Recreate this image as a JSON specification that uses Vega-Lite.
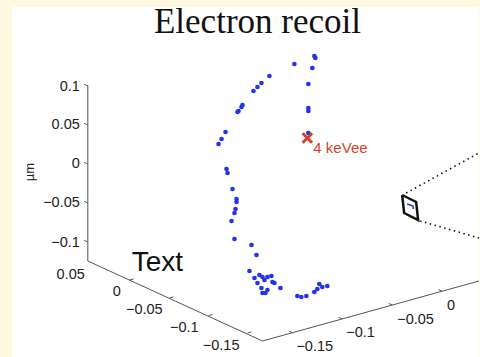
{
  "$schema": "https://vega.github.io/schema/vega-lite/v6.json",
  "width": 480,
  "height": 357,
  "autosize": {"type": "fit", "contains": "padding"},
  "padding": 0,
  "background": "#FFF8E1",
  "config": {"view": {"stroke": null}},
  "datasets": {
    "panel": [{"x": 12, "x2": 480, "y": 7, "y2": 357}],
    "axisLines": [
      {"x": 88, "y": 85, "x2": 88, "y2": 261},
      {"x": 88, "y": 261, "x2": 263, "y2": 341},
      {"x": 263, "y": 341, "x2": 480, "y2": 281}
    ],
    "ticks": [
      {"x": 88, "y": 86, "x2": 84.4, "y2": 84.4},
      {"x": 88, "y": 125, "x2": 84.4, "y2": 123.4},
      {"x": 88, "y": 164, "x2": 84.4, "y2": 162.4},
      {"x": 88, "y": 203, "x2": 84.4, "y2": 201.4},
      {"x": 88, "y": 242, "x2": 84.4, "y2": 240.4},
      {"x": 130, "y": 280, "x2": 133.9, "y2": 278.9},
      {"x": 170, "y": 298, "x2": 173.9, "y2": 296.9},
      {"x": 209, "y": 315.6, "x2": 212.9, "y2": 314.5},
      {"x": 248, "y": 333, "x2": 251.9, "y2": 331.9},
      {"x": 293, "y": 332.7, "x2": 289.4, "y2": 331.1},
      {"x": 343, "y": 318.9, "x2": 339.4, "y2": 317.3},
      {"x": 393, "y": 305, "x2": 389.4, "y2": 303.4},
      {"x": 443, "y": 291.2, "x2": 439.4, "y2": 289.6}
    ],
    "rightLabels": [
      {"x": 80, "y": 87, "label": "0.1"},
      {"x": 80, "y": 125, "label": "0.05"},
      {"x": 80, "y": 164, "label": "0"},
      {"x": 80, "y": 203, "label": "−0.05"},
      {"x": 80, "y": 243, "label": "−0.1"},
      {"x": 85, "y": 275, "label": "0.05"},
      {"x": 121, "y": 292, "label": "0"},
      {"x": 163, "y": 310, "label": "−0.05"},
      {"x": 199, "y": 328, "label": "−0.1"},
      {"x": 240, "y": 346, "label": "−0.15"}
    ],
    "leftLabels": [
      {"x": 297, "y": 347, "label": "−0.15"},
      {"x": 347, "y": 333, "label": "−0.1"},
      {"x": 398, "y": 320, "label": "−0.05"},
      {"x": 448, "y": 306, "label": "0"}
    ],
    "track": [
      {"x": 315, "y": 56}, {"x": 316, "y": 58}, {"x": 295, "y": 64}, {"x": 313, "y": 68},
      {"x": 309, "y": 84}, {"x": 309, "y": 108}, {"x": 309, "y": 111}, {"x": 309, "y": 133},
      {"x": 270, "y": 76}, {"x": 262, "y": 83}, {"x": 258, "y": 87}, {"x": 254, "y": 91},
      {"x": 243, "y": 105}, {"x": 242, "y": 107}, {"x": 239, "y": 111}, {"x": 238, "y": 112},
      {"x": 226, "y": 132}, {"x": 222, "y": 139}, {"x": 219, "y": 144},
      {"x": 227, "y": 169}, {"x": 228, "y": 173}, {"x": 233, "y": 189},
      {"x": 237, "y": 199}, {"x": 237, "y": 202}, {"x": 236, "y": 209}, {"x": 235, "y": 213},
      {"x": 232, "y": 221}, {"x": 235, "y": 239}, {"x": 252, "y": 245}, {"x": 257, "y": 255},
      {"x": 250, "y": 271}, {"x": 255, "y": 278}, {"x": 260, "y": 275}, {"x": 263, "y": 277},
      {"x": 265, "y": 280}, {"x": 268, "y": 277}, {"x": 272, "y": 276}, {"x": 273, "y": 282},
      {"x": 275, "y": 283}, {"x": 281, "y": 288}, {"x": 258, "y": 283}, {"x": 262, "y": 288},
      {"x": 263, "y": 293}, {"x": 266, "y": 293}, {"x": 268, "y": 290},
      {"x": 298, "y": 296}, {"x": 302, "y": 297}, {"x": 307, "y": 296},
      {"x": 315, "y": 292}, {"x": 318, "y": 289}, {"x": 320, "y": 284}, {"x": 323, "y": 287},
      {"x": 328, "y": 286}
    ],
    "vertex": [{"x": 308, "y": 138}],
    "vertexLabel": [{"x": 314, "y": 148, "label": "4 keVee"}],
    "zoomLines": [
      {"x": 407, "y": 193, "x2": 480, "y2": 153},
      {"x": 421, "y": 221, "x2": 480, "y2": 238}
    ],
    "box": [
      {"x": 403, "y": 195, "order": 0},
      {"x": 417, "y": 202, "order": 1},
      {"x": 419, "y": 220, "order": 2},
      {"x": 405, "y": 213, "order": 3},
      {"x": 403, "y": 195, "order": 4}
    ],
    "boxTrack": [
      {"x": 408, "y": 204, "x2": 414, "y2": 206},
      {"x": 414, "y": 206, "x2": 414, "y2": 209}
    ]
  },
  "encoding": {
    "x": {"field": "x", "type": "quantitative", "scale": {"domain": [0, 480], "nice": false, "zero": false}, "axis": null},
    "y": {"field": "y", "type": "quantitative", "scale": {"domain": [0, 357], "nice": false, "zero": false, "reverse": true}, "axis": null}
  },
  "layer": [
    {
      "data": {"name": "panel"},
      "mark": {"type": "rect", "fill": "#ffffff"},
      "encoding": {"x2": {"field": "x2"}, "y2": {"field": "y2"}}
    },
    {
      "data": {"name": "axisLines"},
      "mark": {"type": "rule", "color": "#555555", "strokeWidth": 1},
      "encoding": {"x2": {"field": "x2"}, "y2": {"field": "y2"}}
    },
    {
      "data": {"name": "ticks"},
      "mark": {"type": "rule", "color": "#555555", "strokeWidth": 1},
      "encoding": {"x2": {"field": "x2"}, "y2": {"field": "y2"}}
    },
    {
      "data": {"name": "rightLabels"},
      "mark": {"type": "text", "align": "right", "baseline": "middle", "font": "Liberation Sans", "fontSize": 14.5, "color": "#222222"},
      "encoding": {"text": {"field": "label"}}
    },
    {
      "data": {"name": "leftLabels"},
      "mark": {"type": "text", "align": "left", "baseline": "middle", "font": "Liberation Sans", "fontSize": 14.5, "color": "#222222"},
      "encoding": {"text": {"field": "label"}}
    },
    {
      "data": {"name": "zoomLines"},
      "mark": {"type": "rule", "color": "#111111", "strokeWidth": 1.6, "strokeDash": [1.5, 3.5]},
      "encoding": {"x2": {"field": "x2"}, "y2": {"field": "y2"}}
    },
    {
      "data": {"name": "box"},
      "mark": {"type": "line", "color": "#111111", "strokeWidth": 2.5, "strokeJoin": "miter"},
      "encoding": {"order": {"field": "order", "type": "quantitative"}}
    },
    {
      "data": {"name": "boxTrack"},
      "mark": {"type": "rule", "color": "#2a35e8", "strokeWidth": 1.5},
      "encoding": {"x2": {"field": "x2"}, "y2": {"field": "y2"}}
    },
    {
      "data": {"name": "track"},
      "mark": {"type": "circle", "color": "#2233ee", "size": 22, "opacity": 1}
    },
    {
      "data": {"name": "vertex"},
      "mark": {"type": "point", "shape": "M-1,-1L1,1M1,-1L-1,1", "size": 90, "filled": false, "strokeWidth": 3, "color": "#d5402b", "opacity": 1}
    },
    {
      "data": {"name": "vertexLabel"},
      "mark": {"type": "text", "align": "left", "baseline": "middle", "font": "Liberation Sans", "fontSize": 15, "color": "#d5402b"},
      "encoding": {"text": {"field": "label"}}
    },
    {
      "data": {"values": [{"x": 258, "y": 33, "label": "Electron recoil"}]},
      "mark": {"type": "text", "align": "center", "baseline": "alphabetic", "font": "Liberation Serif", "fontSize": 35, "color": "#111111"},
      "encoding": {"text": {"field": "label"}}
    },
    {
      "data": {"values": [{"x": 132, "y": 271, "label": "Text"}]},
      "mark": {"type": "text", "align": "left", "baseline": "alphabetic", "font": "Liberation Sans Narrow, Liberation Sans", "fontSize": 28, "color": "#111111"},
      "encoding": {"text": {"field": "label"}}
    },
    {
      "data": {"values": [{"x": 30, "y": 172, "label": "µm"}]},
      "mark": {"type": "text", "align": "center", "baseline": "middle", "angle": 270, "font": "Liberation Sans", "fontSize": 13, "color": "#222222"},
      "encoding": {"text": {"field": "label"}}
    }
  ]
}
